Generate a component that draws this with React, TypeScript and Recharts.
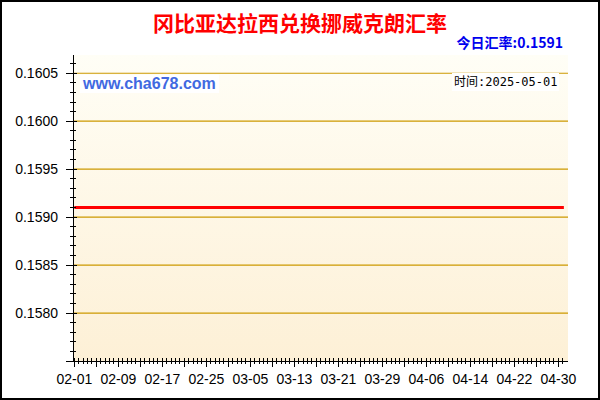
import React from 'react';
import { LineChart, Line, XAxis, YAxis, CartesianGrid, ReferenceLine } from 'recharts';

// x tick labels (every 8 days) and y tick labels
const xTickLabels = ['02-01', '02-09', '02-17', '02-25', '03-05', '03-13', '03-21', '03-29', '04-06', '04-14', '04-22', '04-30'];
const yTickLabels = [0.158, 0.1585, 0.159, 0.1595, 0.16, 0.1605];

// daily rate, 02-01 .. 05-01 (flat)
const rates = [
  0.1591, 0.1591, 0.1591, 0.1591, 0.1591, 0.1591, 0.1591, 0.1591, 0.1591, 0.1591,
  0.1591, 0.1591, 0.1591, 0.1591, 0.1591, 0.1591, 0.1591, 0.1591, 0.1591, 0.1591,
  0.1591, 0.1591, 0.1591, 0.1591, 0.1591, 0.1591, 0.1591, 0.1591, 0.1591, 0.1591,
  0.1591, 0.1591, 0.1591, 0.1591, 0.1591, 0.1591, 0.1591, 0.1591, 0.1591, 0.1591,
  0.1591, 0.1591, 0.1591, 0.1591, 0.1591, 0.1591, 0.1591, 0.1591, 0.1591, 0.1591,
  0.1591, 0.1591, 0.1591, 0.1591, 0.1591, 0.1591, 0.1591, 0.1591, 0.1591, 0.1591,
  0.1591, 0.1591, 0.1591, 0.1591, 0.1591, 0.1591, 0.1591, 0.1591, 0.1591, 0.1591,
  0.1591, 0.1591, 0.1591, 0.1591, 0.1591, 0.1591, 0.1591, 0.1591, 0.1591, 0.1591,
  0.1591, 0.1591, 0.1591, 0.1591, 0.1591, 0.1591, 0.1591, 0.1591, 0.1591, 0.1591,
];

const months: [string, number][] = [['02', 28], ['03', 31], ['04', 30], ['05', 1]];
const dates: string[] = [];
months.forEach(([m, n]) => {
  for (let d = 1; d <= n; d++) dates.push(`${m}-${String(d).padStart(2, '0')}`);
});

const chartData = dates.map((date, i) => ({ day: i, date, rate: rates[i] }));

const X_MIN = -0.25;
const X_MAX = 89.75;
const Y_MIN = 0.1575;
const Y_MAX = 0.16069;

// bottom ticks: 5 per 4-day step, label every 8 days
const X_STEP = 0.8;
const bottomTicks: number[] = [];
for (let k = 0; k * X_STEP <= 89.6; k++) bottomTicks.push(k * X_STEP);
const topTicks: number[] = [];
for (let k = 0; (k * 4) / 3 <= 89.4; k++) topTicks.push((k * 4) / 3);
const Y_STEP = 0.0001;
const yTicks: number[] = [];
for (let k = 0; Y_MIN + k * Y_STEP <= Y_MAX; k++) yTicks.push(Y_MIN + k * Y_STEP);

const font = '"Liberation Sans", Arial, sans-serif';
const gridColor = '#cc9900';

const LeftTick = ({ x, y, payload }: any) => {
  const k = Math.round((payload.value - Y_MIN) / Y_STEP);
  const major = k % 5 === 0;
  return (
    <g>
      <line x1={major ? x - 7 : x - 3} x2={major ? x + 4 : x + 3} y1={y} y2={y} stroke="#000" shapeRendering="crispEdges" />
      {major && k > 0 && (
        <text x={x - 15} y={y} dy={5} textAnchor="end" fontSize={14} fontFamily={font} fill="#000">
          {yTickLabels[k / 5 - 1].toFixed(4)}
        </text>
      )}
    </g>
  );
};

const RightTick = ({ x, y, payload }: any) => {
  const k = Math.round((payload.value - Y_MIN) / Y_STEP);
  const major = k % 5 === 0;
  return <line x1={major ? x - 5 : x - 2} x2={x + 3} y1={y} y2={y} stroke="#000" shapeRendering="crispEdges" />;
};

const BottomTick = ({ x, y, payload }: any) => {
  const k = Math.round(payload.value / X_STEP);
  const major = k % 5 === 0;
  return (
    <g>
      <line x1={x} x2={x} y1={y - 3} y2={major ? y + 6 : y + 3} stroke="#000" shapeRendering="crispEdges" />
      {k % 10 === 0 && (
        <text x={x} y={y} dy={23} textAnchor="middle" fontSize={14} fontFamily={font} fill="#000">
          {xTickLabels[k / 10]}
        </text>
      )}
    </g>
  );
};

const TopTick = ({ x, y }: any) => <line x1={x} x2={x} y1={y} y2={y + 4} stroke="#000" shapeRendering="crispEdges" />;

export default function App() {
  return (
    <div style={{ position: 'absolute', left: 0, top: 0, width: 600, height: 400, background: '#fff' }}>
      <LineChart width={600} height={400} data={chartData} margin={{ top: 55, right: 32, bottom: 0, left: 0 }}>
        <defs>
          <linearGradient id="plotBg" x1="0" y1="0" x2="0" y2="1">
            <stop offset="0%" stopColor="#fffef6" />
            <stop offset="100%" stopColor="#fdf0d6" />
          </linearGradient>
        </defs>
        <CartesianGrid fill="url(#plotBg)" fillOpacity={1} horizontal={false} vertical={false} />
        {yTickLabels.map((v) => (
          <ReferenceLine key={v} y={v} stroke={gridColor} strokeWidth={1.2} />
        ))}
        <XAxis
          dataKey="day"
          type="number"
          domain={[X_MIN, X_MAX]}
          allowDataOverflow
          ticks={bottomTicks}
          interval={0}
          height={39}
          tickSize={0}
          tickMargin={0}
          tickLine={false}
          axisLine={{ stroke: '#000', shapeRendering: 'crispEdges' }}
          tick={<BottomTick />}
        />
        <XAxis
          xAxisId="top"
          orientation="top"
          dataKey="day"
          type="number"
          domain={[X_MIN, X_MAX]}
          allowDataOverflow
          ticks={topTicks}
          interval={0}
          height={0}
          tickSize={0}
          tickMargin={0}
          tickLine={false}
          axisLine={{ stroke: '#000', shapeRendering: 'crispEdges' }}
          tick={<TopTick />}
        />
        <YAxis
          type="number"
          domain={[Y_MIN, Y_MAX]}
          allowDataOverflow
          ticks={yTicks}
          interval={0}
          width={73}
          tickSize={0}
          tickMargin={0}
          tickLine={false}
          axisLine={{ stroke: '#000', shapeRendering: 'crispEdges' }}
          tick={<LeftTick />}
        />
        <YAxis
          yAxisId="right"
          orientation="right"
          type="number"
          domain={[Y_MIN, Y_MAX]}
          allowDataOverflow
          ticks={yTicks}
          interval={0}
          width={0}
          tickSize={0}
          tickMargin={0}
          tickLine={false}
          axisLine={{ stroke: '#000', shapeRendering: 'crispEdges' }}
          tick={<RightTick />}
        />
        <Line type="linear" dataKey="rate" stroke="#ff0000" strokeWidth={3} dot={false} isAnimationActive={false} />
      </LineChart>

      <div style={{ position: 'absolute', left: 0, top: 10, width: 600, textAlign: 'center', fontFamily: '"Noto Sans CJK SC", sans-serif', fontWeight: 'bold', fontSize: 21, lineHeight: '24px', color: '#ff0000' }}>
        冈比亚达拉西兑换挪威克朗汇率
      </div>
      <div style={{ position: 'absolute', right: 37, top: 33, fontFamily: '"Noto Sans CJK SC", sans-serif', fontWeight: 'bold', fontSize: 14, lineHeight: '18px', color: '#0000ee', whiteSpace: 'nowrap' }}>
        今日汇率:0.1591
      </div>
      <div style={{ position: 'absolute', left: 80, top: 75, height: 18, padding: '0 3px', background: '#fff', fontFamily: font, fontWeight: 'bold', fontSize: 16, lineHeight: '18px', color: '#4169e1', whiteSpace: 'nowrap' }}>
        www.cha678.com
      </div>
      <div style={{ position: 'absolute', left: 452, top: 73, height: 18, padding: '0 2px', background: '#fff', fontFamily: '"DejaVu Sans Mono", "Noto Sans CJK SC", monospace', fontSize: 12, lineHeight: '18px', color: '#000', whiteSpace: 'nowrap' }}>
        时间:2025-05-01
      </div>
      <div style={{ position: 'absolute', left: 0, top: 0, width: 596, height: 396, border: '2px solid #000', pointerEvents: 'none' }} />
    </div>
  );
}
